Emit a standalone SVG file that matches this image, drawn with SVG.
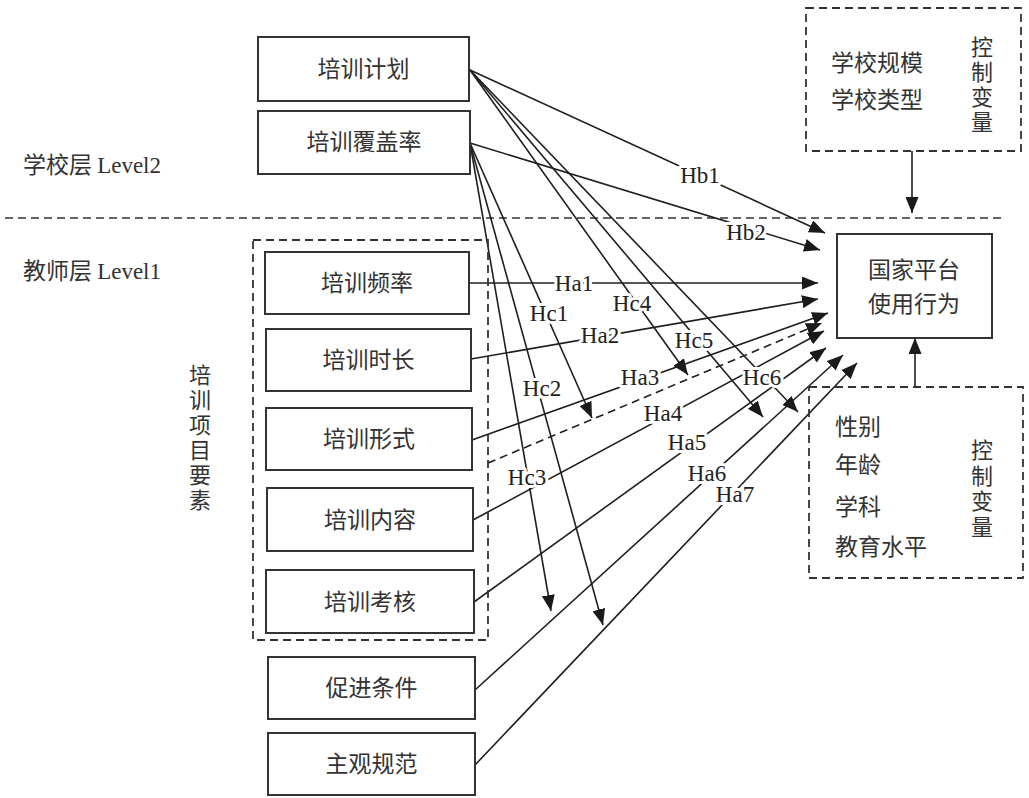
<svg xmlns="http://www.w3.org/2000/svg" width="1029" height="798" viewBox="0 0 1029 798">
<defs>
<marker id="ah" markerUnits="userSpaceOnUse" markerWidth="17" markerHeight="13" refX="16" refY="6.5" orient="auto">
<path d="M0,0 L16,6.5 L0,13 z" fill="#1a1a1a"/>
</marker>
<style>
.box{fill:#fff;stroke:#333;stroke-width:2}
.dbox{fill:none;stroke:#333;stroke-width:1.8;stroke-dasharray:8 5}
.cn{font-family:"Noto Sans CJK SC","Noto Sans CJK JP",sans-serif;font-size:23px;fill:#333;text-anchor:middle}
.cnl{font-family:"Noto Sans CJK SC","Noto Sans CJK JP",sans-serif;font-size:23px;fill:#333}
.vt{font-family:"Noto Sans CJK SC","Noto Sans CJK JP",sans-serif;font-size:22px;fill:#333;writing-mode:vertical-rl;letter-spacing:3px}
.en{font-family:"Liberation Serif",serif;font-size:23px;fill:#333}
.ln{stroke:#1f1f1f;stroke-width:1.6;fill:none;marker-end:url(#ah)}
.dl{stroke:#1f1f1f;stroke-width:1.6;fill:none;stroke-dasharray:8 5;marker-end:url(#ah)}
.lb{font-family:"Liberation Serif",serif;font-size:23px;fill:#222;text-anchor:middle;stroke:#fff;stroke-width:6;paint-order:stroke;stroke-linejoin:round}
</style>
</defs>
<rect width="1029" height="798" fill="#fff"/>

<g id="level-labels">
<text x="23" y="173" class="cnl">学校层 <tspan class="en">Level2</tspan></text>
<text x="23" y="279" class="cnl">教师层 <tspan class="en">Level1</tspan></text>
<line x1="5" y1="218" x2="1003" y2="218" stroke="#333" stroke-width="1.6" stroke-dasharray="8 5"/>
</g>

<g id="connectors">
<line class="ln" x1="470" y1="70" x2="825" y2="233"/>
<line class="ln" x1="470" y1="143" x2="820" y2="250"/>
<line class="ln" x1="470" y1="70" x2="688" y2="375"/>
<line class="ln" x1="470" y1="70" x2="763" y2="417"/>
<line class="ln" x1="470" y1="70" x2="798" y2="412"/>
<line class="ln" x1="470" y1="143" x2="592" y2="418"/>
<line class="ln" x1="470" y1="143" x2="603" y2="625"/>
<line class="ln" x1="470" y1="143" x2="551" y2="611"/>
<line class="ln" x1="469" y1="283" x2="818" y2="283"/>
<line class="ln" x1="471" y1="359" x2="818" y2="299"/>
<line class="ln" x1="472" y1="440" x2="828" y2="313"/>
<line class="dl" x1="488" y1="463" x2="822" y2="323"/>
<line class="ln" x1="473" y1="520" x2="824" y2="331"/>
<line class="ln" x1="474" y1="602" x2="826" y2="348"/>
<line class="ln" x1="475" y1="690" x2="843" y2="355"/>
<line class="ln" x1="475" y1="765" x2="857" y2="363"/>
<line class="ln" x1="912" y1="151" x2="912" y2="213"/>
<line class="ln" x1="915" y1="387" x2="915" y2="338"/>
<text class="lb" x="700" y="183">Hb1</text>
<text class="lb" x="746" y="240">Hb2</text>
<text class="lb" x="574" y="291">Ha1</text>
<text class="lb" x="600" y="343">Ha2</text>
<text class="lb" x="640" y="385">Ha3</text>
<text class="lb" x="663" y="421">Ha4</text>
<text class="lb" x="687" y="450">Ha5</text>
<text class="lb" x="707" y="481">Ha6</text>
<text class="lb" x="735" y="502">Ha7</text>
<text class="lb" x="549" y="321">Hc1</text>
<text class="lb" x="542" y="396">Hc2</text>
<text class="lb" x="527" y="485">Hc3</text>
<text class="lb" x="632" y="311">Hc4</text>
<text class="lb" x="694" y="348">Hc5</text>
<text class="lb" x="762" y="385">Hc6</text>
</g>

<g id="group-training">
<rect class="dbox" x="253" y="240" width="235" height="400"/>
<text class="vt" x="200" y="364">培训项目要素</text>
</g>

<g id="n-plan"><rect class="box" x="258" y="37" width="211" height="64"/><text class="cn" x="363.5" y="77">培训计划</text></g>
<g id="n-coverage"><rect class="box" x="258" y="111" width="212" height="63"/><text class="cn" x="364" y="150">培训覆盖率</text></g>
<g id="n-freq"><rect class="box" x="265" y="252" width="204" height="62"/><text class="cn" x="367" y="291">培训频率</text></g>
<g id="n-duration"><rect class="box" x="266" y="329" width="205" height="62"/><text class="cn" x="368.5" y="368">培训时长</text></g>
<g id="n-form"><rect class="box" x="266" y="408" width="206" height="62"/><text class="cn" x="369" y="447">培训形式</text></g>
<g id="n-content"><rect class="box" x="267" y="488" width="206" height="63"/><text class="cn" x="370" y="528">培训内容</text></g>
<g id="n-assess"><rect class="box" x="266" y="570" width="208" height="63"/><text class="cn" x="370" y="610">培训考核</text></g>
<g id="n-facilitate"><rect class="box" x="268" y="657" width="207" height="62"/><text class="cn" x="371.5" y="696">促进条件</text></g>
<g id="n-norm"><rect class="box" x="268" y="733" width="207" height="62"/><text class="cn" x="371.5" y="772">主观规范</text></g>

<g id="n-school-controls">
<rect class="dbox" x="806" y="8" width="215" height="143"/>
<text class="cnl" x="831" y="71">学校规模</text>
<text class="cnl" x="831" y="108">学校类型</text>
<text class="vt" x="982" y="36">控制变量</text>
</g>

<g id="n-usage">
<rect class="box" x="837" y="234" width="155" height="104"/>
<text class="cn" x="914" y="278">国家平台</text>
<text class="cn" x="914" y="312">使用行为</text>
</g>

<g id="n-teacher-controls">
<rect class="dbox" x="809" y="387" width="214" height="191"/>
<text class="cnl" x="835" y="435">性别</text>
<text class="cnl" x="835" y="473">年龄</text>
<text class="cnl" x="835" y="515">学科</text>
<text class="cnl" x="835" y="555">教育水平</text>
<text class="vt" x="982" y="439" style="letter-spacing:3.5px">控制变量</text>
</g>
</svg>
